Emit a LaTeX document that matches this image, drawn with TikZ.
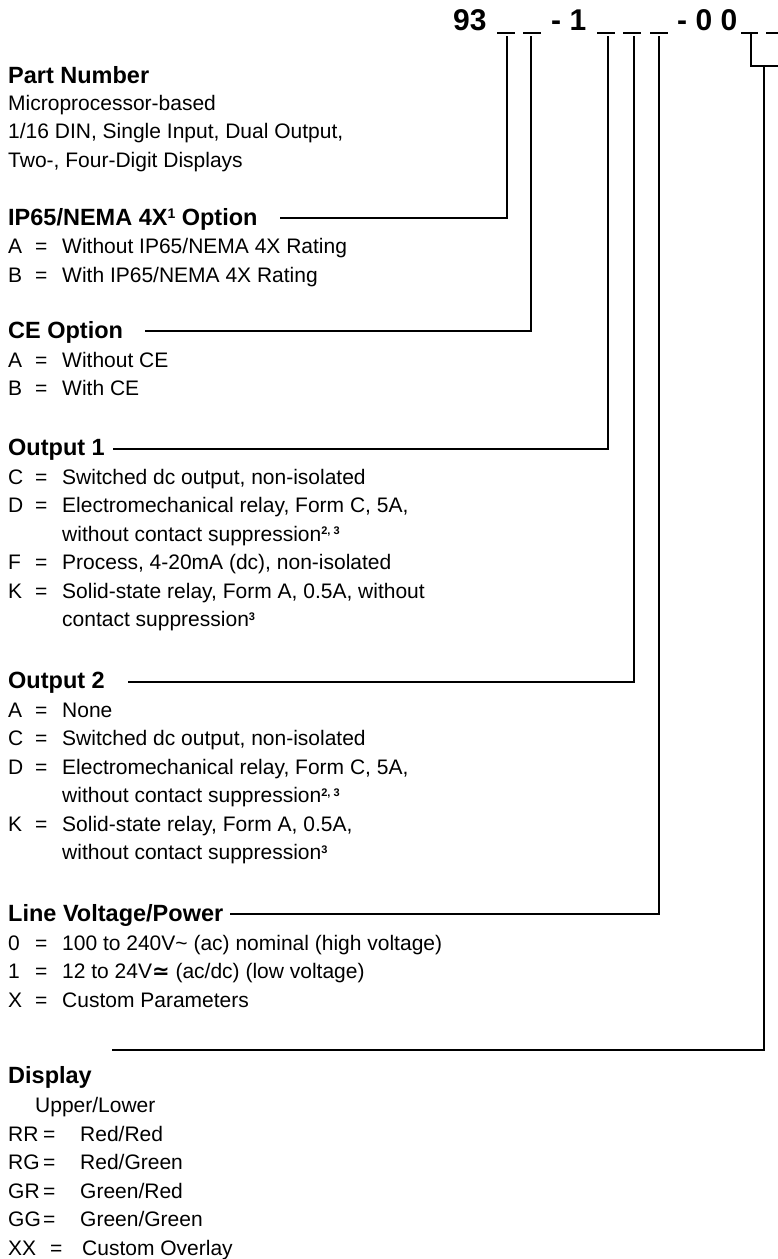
\documentclass[tikz,border=0pt]{standalone}
\usepackage{fontspec}
\setmainfont{Liberation Sans}
\newfontfamily\djv{DejaVu Sans}
\newcommand\supsB[1]{\raisebox{6.5pt}{\fontsize{11}{11}\selectfont\bfseries #1}}
\newcommand\supsH[1]{\raisebox{6.5pt}{\fontsize{14}{14}\selectfont\bfseries #1}}
\newcommand\kv[2]{\makebox[27pt][l]{#1}\makebox[27pt][l]{=}#2}
\newcommand\dv[4]{\makebox[#1][l]{#2}\makebox[#3][l]{=}#4}
\begin{document}
\begin{tikzpicture}[x=1pt,y=-1pt,
  body/.style={anchor=base west, inner sep=0pt, font=\fontsize{21}{25}\selectfont},
  head/.style={anchor=base west, inner sep=0pt, font=\fontsize{23.5}{28}\selectfont\bfseries},
  code/.style={anchor=base west, inner sep=0pt, font=\fontsize{30}{34}\selectfont\bfseries},
  conn/.style={line width=2pt, line join=miter},
  uscore/.style={line width=1.6pt}]
\useasboundingbox[fill=white] (0,0) rectangle (777,1259);

% ---- part number code ----
\node[code] (n93) at (453,30) {93};
\node[code] (n1) at (551,30) {- 1};
\node[code] (n00) at (677,30) {- 0 0};
\draw[uscore] (497,33) -- (515,33);
\draw[uscore] (523,33) -- (541,33);
\draw[uscore] (597,33) -- (615,33);
\draw[uscore] (623,33) -- (641,33);
\draw[uscore] (650,33) -- (668,33);
\draw[uscore] (741,33) -- (758,33);
\draw[uscore] (766,33) -- (784,33);

\coordinate (s1) at (507,36);
\coordinate (s2) at (531,36);
\coordinate (s3) at (608,36);
\coordinate (s4) at (634,36);
\coordinate (s5) at (659,36);
\coordinate (b1) at (751,34);
\coordinate (b2) at (782,34);
\coordinate (s6) at (764,66);

\coordinate (e1) at (280,218);
\coordinate (e2) at (145,331);
\coordinate (e3) at (113,449);
\coordinate (e4) at (128,682);
\coordinate (e5) at (230,914);
\coordinate (e6) at (112,1050);

% ---- Part Number ----
\node[head] (pn) at (8,83) {Part Number};
\node[body] (pn1) at (8,110) {Microprocessor-based};
\node[body] (pn2) at (8,138.5) {1/16 DIN, Single Input, Dual Output,};
\node[body] (pn3) at (8,167) {Two-, Four-Digit Displays};

% ---- IP65 ----
\node[head] (ip) at (8,225) {IP65/NEMA 4X\supsH{1} Option};
\node[body] (ipA) at (8,253.5) {\kv{A}{Without IP65/NEMA 4X Rating}};
\node[body] (ipB) at (8,282) {\kv{B}{With IP65/NEMA 4X Rating}};

% ---- CE ----
\node[head] (ce) at (8,338.5) {CE Option};
\node[body] (ceA) at (8,367) {\kv{A}{Without CE}};
\node[body] (ceB) at (8,395.5) {\kv{B}{With CE}};

% ---- Output 1 ----
\node[head] (o1) at (8,455.5) {Output 1};
\node[body] (o1C) at (8,484) {\kv{C}{Switched dc output, non-isolated}};
\node[body] (o1D) at (8,512.5) {\kv{D}{Electromechanical relay, Form C, 5A,}};
\node[body] (o1D2) at (62,541) {without contact suppression\supsB{2, 3}};
\node[body] (o1F) at (8,569.5) {\kv{F}{Process, 4-20mA (dc), non-isolated}};
\node[body] (o1K) at (8,598) {\kv{K}{Solid-state relay, Form A, 0.5A, without}};
\node[body] (o1K2) at (62,626.5) {contact suppression\supsB{3}};

% ---- Output 2 ----
\node[head] (o2) at (8,688.5) {Output 2};
\node[body] (o2A) at (8,717) {\kv{A}{None}};
\node[body] (o2C) at (8,745.5) {\kv{C}{Switched dc output, non-isolated}};
\node[body] (o2D) at (8,774) {\kv{D}{Electromechanical relay, Form C, 5A,}};
\node[body] (o2D2) at (62,802.5) {without contact suppression\supsB{2, 3}};
\node[body] (o2K) at (8,831) {\kv{K}{Solid-state relay, Form A, 0.5A,}};
\node[body] (o2K2) at (62,859.5) {without contact suppression\supsB{3}};

% ---- Line Voltage ----
\node[head] (lv) at (8,921) {Line Voltage/Power};
\node[body] (lv0) at (8,950) {\kv{0}{100 to 240V\textasciitilde{} (ac) nominal (high voltage)}};
\node[body] (lv1) at (8,978.5) {\kv{1}{12 to 24V{\djv\bfseries ≃} (ac/dc) (low voltage)}};
\node[body] (lvX) at (8,1007) {\kv{X}{Custom Parameters}};

% ---- Display ----
\node[head] (dp) at (8,1083) {Display};
\node[body] (dpH) at (35,1112.5) {Upper/Lower};
\node[body] (dRR) at (8,1141) {\dv{35pt}{RR}{37pt}{Red/Red}};
\node[body] (dRG) at (8,1169.5) {\dv{35pt}{RG}{37pt}{Red/Green}};
\node[body] (dGR) at (8,1198) {\dv{35pt}{GR}{37pt}{Green/Red}};
\node[body] (dGG) at (8,1226.5) {\dv{35pt}{GG}{37pt}{Green/Green}};
\node[body] (dXX) at (8,1255) {\dv{42pt}{XX}{32pt}{Custom Overlay}};

% ---- connectors ----
\draw[conn] (s1) |- (e1);
\draw[conn] (s2) |- (e2);
\draw[conn] (s3) |- (e3);
\draw[conn] (s4) |- (e4);
\draw[conn] (s5) |- (e5);
\draw[conn] (b1) |- (s6) -| (b2);
\draw[conn] (s6) |- (e6);
\end{tikzpicture}
\end{document}
